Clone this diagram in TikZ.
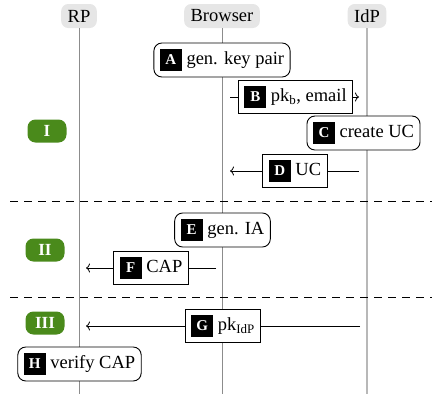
\documentclass[tikz,border=0pt]{standalone}
\usepackage{fontspec}
\setmainfont{Liberation Serif}
\usetikzlibrary{arrows.meta}
\definecolor{phasegreen}{HTML}{4A8A1B}
\definecolor{headgray}{HTML}{E6E6E6}
\newcommand{\badge}[1]{{\setlength{\fboxsep}{0pt}\colorbox{black}{\parbox[c][22pt][c]{22pt}{\centering\color{white}\fontsize{15}{15}\selectfont\bfseries #1}}}}
\begin{document}
\begin{tikzpicture}[x=1pt,y=-1pt,
  head/.style={fill=headgray, rounded corners=7pt, minimum height=24pt, inner xsep=6.5pt, inner ysep=0pt, font=\fontsize{18.5}{20}\selectfont},
  life/.style={draw=black!45, line width=0.8pt},
  idplife/.style={draw=black!28, line width=1.5pt},
  stepround/.style={draw, fill=white, rounded corners=8pt, line width=0.9pt, minimum height=34pt, inner xsep=6pt, inner ysep=0pt, font=\fontsize{18.5}{20}\selectfont},
  msg/.style={draw, fill=white, line width=0.9pt, minimum height=33pt, inner xsep=6pt, inner ysep=0pt, font=\fontsize{18.5}{20}\selectfont},
  phase/.style={fill=phasegreen, text=white, rounded corners=8pt, minimum width=39pt, minimum height=23pt, inner sep=0pt, font=\fontsize{17}{17}\selectfont\bfseries},
  conn/.style={-{To[length=4pt,width=9pt]}, line width=0.8pt},
  sep/.style={dashed, dash pattern=on 8pt off 6pt, line width=0.8pt}]
\useasboundingbox (0,0) rectangle (432,394);
% headers
\node[head] (rp) at (79,16) {RP};
\node[head] (br) at (222,16) {Browser};
\node[head] (idp) at (367,16) {IdP};
\coordinate (rpend) at (79,394);
\coordinate (brend) at (222,394);
\coordinate (idpend) at (367,394);
\draw[life] (rp.south) -- (rpend);
\draw[life] (br.south) -- (brend);
\draw[idplife] (idp.south) -- (idpend);
% separators
\coordinate (s1a) at (10,201); \coordinate (s1b) at (432,201);
\coordinate (s2a) at (10,297); \coordinate (s2b) at (432,297);
\draw[sep] (s1a) -- (s1b);
\draw[sep] (s2a) -- (s2b);
% phases
\node[phase] (p1) at (47,131) {I};
\node[phase] (p2) at (45,250) {II};
\node[phase] (p3) at (45,323) {III};
% arrows
\coordinate (b1) at (230,97); \coordinate (b2) at (359,97);
\coordinate (d1) at (359,171); \coordinate (d2) at (230,171);
\coordinate (f1) at (216,268); \coordinate (f2) at (86,268);
\coordinate (g1) at (360,326); \coordinate (g2) at (86,326);
\draw[conn] (b1) -- (b2);
\draw[conn] (d1) -- (d2);
\draw[conn] (f1) -- (f2);
\draw[conn] (g1) -- (g2);
% steps
\node[stepround] (A) at (222,60) {\badge{A} gen. key pair};
\node[msg] (B) at (295.5,97) {\badge{B} pk\textsubscript{b}, email};
\node[stepround] (C) at (363.5,133) {\badge{C} create UC};
\node[msg] (D) at (295,171) {\badge{D} UC};
\node[stepround] (E) at (222.5,230) {\badge{E} gen. IA};
\node[msg] (F) at (151,268) {\badge{F} CAP};
\node[msg] (G) at (223,326) {\badge{G} pk\textsubscript{IdP}};
\node[stepround] (H) at (79.5,364) {\badge{H} verify CAP};
\end{tikzpicture}
\end{document}
